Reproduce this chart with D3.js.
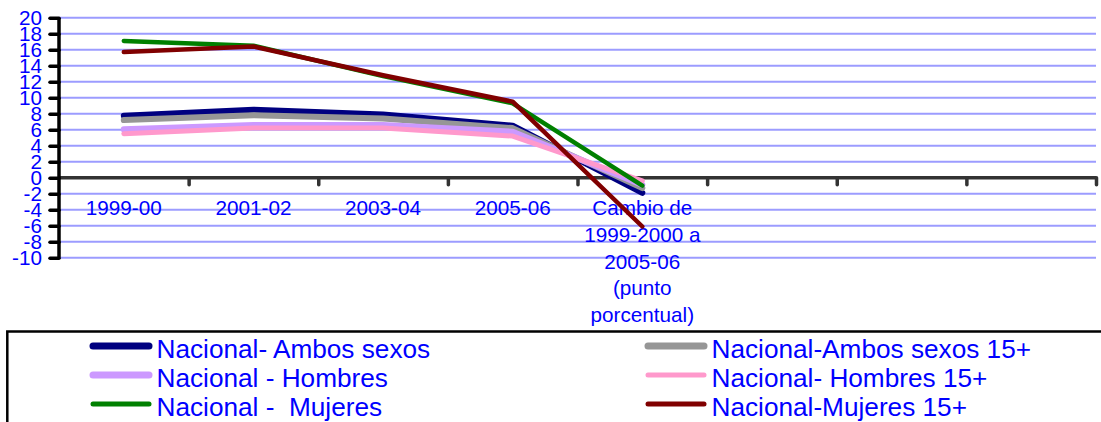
<!DOCTYPE html>
<html><head><meta charset="utf-8">
<script src="https://cdn.jsdelivr.net/npm/d3@7/dist/d3.min.js"></script>
<style>
html,body{margin:0;padding:0;background:#fff;}
svg{display:block;font-family:"Liberation Sans",Arial,sans-serif;}
</style></head>
<body>
<svg id="c" width="1101" height="422"></svg>
<script>
// ---- data ----
const categories = ["1999-00","2001-02","2003-04","2005-06","Cambio de\n1999-2000 a\n2005-06\n(punto\nporcentual)"];
const slotCount = 8;
const yTicks = [-10,-8,-6,-4,-2,0,2,4,6,8,10,12,14,16,18,20];
const seriesNames = ["Nacional- Ambos sexos","Nacional-Ambos sexos 15+","Nacional - Hombres","Nacional- Hombres 15+","Nacional -  Mujeres","Nacional-Mujeres 15+"];
const ambos    = [7.75, 8.5, 7.9, 6.5, -1.9];
const ambos15  = [7.2, 7.8, 7.4, 6.2, -1.3];
const hombres  = [6.05, 6.6, 6.6, 5.75, -0.9];
const hombres15= [5.5, 6.2, 6.2, 5.2, -0.4];
const mujeres  = [17.1, 16.5, 12.7, 9.3, -1.0];
const mujeres15= [15.7, 16.4, 12.8, 9.5, -6.1];
const seriesValues = [ambos, ambos15, hombres, hombres15, mujeres, mujeres15];
const seriesColors = ["#000080","#969696","#cc99ff","#ff99cc","#008000","#800000"];
const seriesWidths = [6,6,6,5,4.5,4.5];
const legendWidths = [7,7,7,5,5,5];

// ---- layout ----
const svg = d3.select("#c");
const pL = 59, pR = 1096, pT = 17.7, pB = 257.7;
const x = d3.scaleLinear().domain([0, slotCount]).range([pL, pR]);
const y = d3.scaleLinear().domain([-10, 20]).range([pB, pT]);

// gridlines
svg.append("g").selectAll("line").data(yTicks.filter(d => d !== 0)).join("line")
  .attr("x1", pL).attr("x2", pR)
  .attr("y1", d => y(d)).attr("y2", d => y(d))
  .attr("stroke", "#9c9cff").attr("stroke-width", 2);

// x axis at zero
const xAxis = d3.axisBottom(x).tickValues(d3.range(1, slotCount + 1)).tickSize(7).tickFormat("");
const gx = svg.append("g").attr("transform", `translate(0,${y(0)})`).call(xAxis);
gx.select(".domain").attr("stroke", "#333").attr("stroke-width", 3.5).attr("d", `M${pL},0H${pR}`);
gx.selectAll(".tick line").attr("stroke", "#333").attr("stroke-width", 3.5).attr("stroke-linecap", "round");

// x labels
const xl = svg.append("g").attr("font-size", 20.7).attr("fill", "#0000ff").attr("text-anchor", "middle");
categories.forEach((c, i) => {
  const lines = c.split("\n");
  const t = xl.append("text").attr("x", x(i + 0.5)).attr("y", 215);
  lines.forEach((ln, j) => t.append("tspan").attr("x", x(i + 0.5)).attr("dy", j === 0 ? 0 : 26.8).text(ln));
});

// y axis
const yAxis = d3.axisLeft(y).tickValues(yTicks).tickSize(9).tickPadding(8).tickFormat(d => String(d));
const gy = svg.append("g").attr("transform", `translate(${pL},0)`).call(yAxis);
gy.select(".domain").attr("stroke", "#000").attr("stroke-width", 3.5).attr("d", `M0,${pT}V${pB}`);
gy.selectAll(".tick line").attr("stroke", "#000").attr("stroke-width", 3.5).attr("stroke-linecap", "round");
gy.selectAll(".tick text").attr("fill", "#0000ff").attr("font-size", 20.7).attr("font-family", '"Liberation Sans",Arial,sans-serif');

// lines
const line = d3.line().x((d, i) => x(i + 0.5)).y(d => y(d));
svg.append("g").selectAll("path").data(seriesValues).join("path")
  .attr("d", d => line(d)).attr("fill", "none")
  .attr("stroke", (d, i) => seriesColors[i]).attr("stroke-width", (d, i) => seriesWidths[i])
  .attr("stroke-linejoin", "round").attr("stroke-linecap", "round");

// legend
svg.append("rect").attr("x", 7.3).attr("y", 331.5).attr("width", 1110).attr("height", 120)
  .attr("fill", "#fff").attr("stroke", "#000").attr("stroke-width", 2.5);
const colX = [93, 648];
const rowY = [346, 375, 404];
const lg = svg.append("g");
seriesNames.forEach((n, i) => {
  const col = i % 2, row = Math.floor(i / 2);
  lg.append("line").attr("x1", colX[col]).attr("x2", colX[col] + 56)
    .attr("y1", rowY[row]).attr("y2", rowY[row])
    .attr("stroke", seriesColors[i]).attr("stroke-width", legendWidths[i]).attr("stroke-linecap", "round");
  lg.append("text").attr("x", colX[col] + 63.5).attr("y", rowY[row] + 11.5)
    .attr("font-size", 26.2).attr("fill", "#0000ff").style("white-space", "pre").text(n);
});
</script>
</body></html>
